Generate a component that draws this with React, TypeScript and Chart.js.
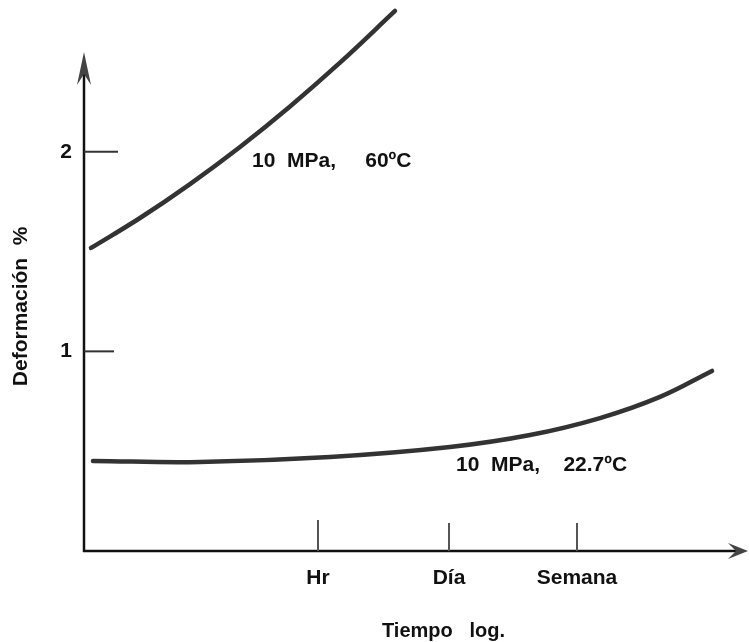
import { useEffect, useRef } from "react";
import { Chart, registerables } from "chart.js";

Chart.register(...registerables);

// Upper curve: 10 MPa, 60ºC  (x = log time, arbitrary units; y = deformación %)
const upperX = [0.07, 0.56, 1.06, 1.56, 2.06, 2.56, 3.11];
const upperY = [1.518, 1.668, 1.838, 2.024, 2.227, 2.446, 2.705];

// Lower curve: 10 MPa, 22.7ºC
const lowerX = [0.09, 1.16, 2.46, 3.66, 4.46, 5.16, 5.76, 6.28];
const lowerY = [0.451, 0.446, 0.471, 0.521, 0.581, 0.666, 0.772, 0.902];

const xTickValues = [2.34, 3.65, 4.93];
const xTickLabels = ["Hr", "Día", "Semana"];
const yTickValues = [1, 2];
const yTickLabels = ["1", "2"];
const seriesLabels = ["10  MPa,     60ºC", "10  MPa,    22.7ºC"];
const yTitle = "Deformación";
const yUnit = "%";
const xTitle = "Tiempo   log.";

const FONT = '"Liberation Sans", Arial, Helvetica, sans-serif';

const axesPlugin = {
  id: "handDrawnAxes",
  afterDatasetsDraw(chart: any) {
    const ctx = chart.ctx as CanvasRenderingContext2D;
    const xs = chart.scales.x;
    const ys = chart.scales.y;
    const x0 = xs.getPixelForValue(0);
    const y0 = ys.getPixelForValue(0);
    ctx.save();

    // y axis line
    const yTip = 52;
    ctx.strokeStyle = "#111";
    ctx.lineWidth = 2.5;
    ctx.beginPath();
    ctx.moveTo(x0, y0 + 1);
    ctx.lineTo(x0, yTip + 10);
    ctx.stroke();
    ctx.fillStyle = "#444";
    ctx.beginPath();
    ctx.moveTo(x0, yTip);
    ctx.lineTo(x0 - 7, yTip + 33);
    ctx.lineTo(x0, yTip + 22);
    ctx.lineTo(x0 + 7, yTip + 33);
    ctx.closePath();
    ctx.fill();

    // x axis line
    const xTip = 748;
    ctx.strokeStyle = "#111";
    ctx.lineWidth = 2.5;
    ctx.beginPath();
    ctx.moveTo(x0 - 1, y0);
    ctx.lineTo(xTip - 10, y0);
    ctx.stroke();
    ctx.fillStyle = "#444";
    ctx.beginPath();
    ctx.moveTo(xTip, y0);
    ctx.lineTo(xTip - 20, y0 - 8);
    ctx.lineTo(xTip - 12, y0);
    ctx.lineTo(xTip - 20, y0 + 8);
    ctx.closePath();
    ctx.fill();

    // y tick marks + labels
    ctx.font = `bold 21px ${FONT}`;
    ctx.fillStyle = "#111";
    ctx.textAlign = "center";
    ctx.textBaseline = "middle";
    yTickValues.forEach((v, i) => {
      const py = ys.getPixelForValue(v);
      ctx.strokeStyle = "#333";
      ctx.lineWidth = 2;
      ctx.beginPath();
      ctx.moveTo(x0, py);
      ctx.lineTo(x0 + (i === 1 ? 34 : 30), py);
      ctx.stroke();
      ctx.fillText(yTickLabels[i], x0 - 18, py);
    });

    // x tick marks + labels
    ctx.textBaseline = "alphabetic";
    xTickValues.forEach((v, i) => {
      const px = xs.getPixelForValue(v);
      ctx.strokeStyle = "#555";
      ctx.lineWidth = 2;
      ctx.beginPath();
      ctx.moveTo(px, y0);
      ctx.lineTo(px, y0 - (i === 0 ? 31 : 28));
      ctx.stroke();
      ctx.fillStyle = "#111";
      ctx.fillText(xTickLabels[i], px, y0 + 33);
    });

    // axis titles
    ctx.font = `bold 20px ${FONT}`;
    ctx.textAlign = "left";
    ctx.fillText(xTitle, 382, 637);

    ctx.save();
    ctx.font = `bold 21px ${FONT}`;
    ctx.translate(27, 322);
    ctx.rotate(-Math.PI / 2);
    ctx.textAlign = "center";
    ctx.textBaseline = "alphabetic";
    ctx.fillText(yTitle, 0, 0);
    ctx.fillText(yUnit, 86, 0);
    ctx.restore();

    // series annotations
    ctx.font = `bold 21px ${FONT}`;
    ctx.textAlign = "left";
    ctx.textBaseline = "alphabetic";
    ctx.fillText(seriesLabels[0], xs.getPixelForValue(1.68), ys.getPixelForValue(1.924));
    ctx.fillText(seriesLabels[1], xs.getPixelForValue(3.72), ys.getPixelForValue(0.40));

    ctx.restore();
  },
};

export default function App() {
  const ref = useRef<HTMLCanvasElement | null>(null);
  useEffect(() => {
    if (!ref.current) return;
    const chart = new Chart(ref.current, {
      type: "line",
      data: {
        datasets: [
          {
            label: seriesLabels[0],
            data: upperX.map((x, i) => ({ x, y: upperY[i] })),
            borderColor: "#333",
            borderWidth: 4.5,
            borderCapStyle: "round",
            pointRadius: 0,
            tension: 0.4,
            fill: false,
          },
          {
            label: seriesLabels[1],
            data: lowerX.map((x, i) => ({ x, y: lowerY[i] })),
            borderColor: "#333",
            borderWidth: 4.5,
            borderCapStyle: "round",
            pointRadius: 0,
            tension: 0.4,
            fill: false,
          },
        ],
      },
      options: {
        responsive: false,
        animation: false,
        devicePixelRatio: 1,
        layout: { padding: { left: 84, right: 4, top: 2, bottom: 91 } },
        plugins: { legend: { display: false }, tooltip: { enabled: false } },
        scales: {
          x: { type: "linear", min: 0, max: 6.61, display: false },
          y: { type: "linear", min: 0, max: 2.75, display: false },
        },
      },
      plugins: [axesPlugin],
    } as any);
    return () => chart.destroy();
  }, []);
  return (
    <div style={{ position: "absolute", left: 0, top: 0, width: 749, height: 642, background: "#fff" }}>
      <canvas ref={ref} width={749} height={642} />
    </div>
  );
}
